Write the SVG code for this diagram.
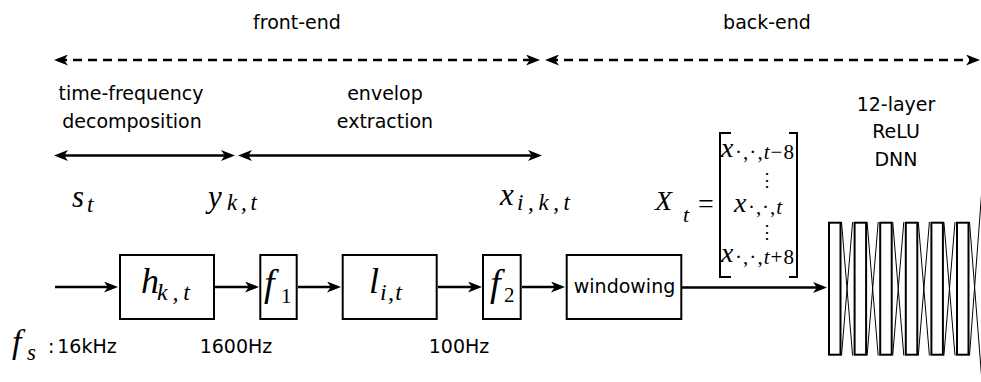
<svg xmlns="http://www.w3.org/2000/svg" width="981" height="382" viewBox="0 0 981 382">
<style>
.s{font-family:"DejaVu Sans",sans-serif;font-size:19px;fill:#000}
.m{font-family:"Liberation Serif",serif;font-style:italic;fill:#000}
.u{font-family:"Liberation Serif",serif;fill:#000}
.box{fill:#fff;stroke:#000;stroke-width:2}
.ln{stroke:#000;stroke-width:2.4;fill:none}
.br{stroke:#000;stroke-width:2;fill:none}
.dash{stroke:#000;stroke-width:2.4;fill:none;stroke-dasharray:9 6}
.thin{stroke:#000;stroke-width:1;fill:none}
.layer{fill:#fff;stroke:#000;stroke-width:2}
</style>
<defs>
<marker id="ah" viewBox="0 0 14 11" refX="10" refY="5.5" markerWidth="14" markerHeight="11" markerUnits="userSpaceOnUse" orient="auto-start-reverse">
<path d="M0,0 L14,5.5 L0,11 L3.8,5.5 Z" fill="#000"/>
</marker>
</defs>
<rect width="981" height="382" fill="#fff"/>

<g id="labels">
<text class="s" x="297" y="29" text-anchor="middle">front-end</text>
<text class="s" x="767" y="29" text-anchor="middle">back-end</text>
<text class="s" x="131" y="100" text-anchor="middle">time-frequency</text>
<text class="s" x="132" y="128" text-anchor="middle">decomposition</text>
<text class="s" x="385" y="100" text-anchor="middle">envelop</text>
<text class="s" x="385" y="128" text-anchor="middle">extraction</text>
<text class="s" x="896" y="111" text-anchor="middle">12-layer</text>
<text class="s" x="896" y="138" text-anchor="middle">ReLU</text>
<text class="s" x="896" y="166" text-anchor="middle">DNN</text>
<text class="m" x="72" y="207" font-size="31">s</text>
<text class="m" x="87" y="212" font-size="23">t</text>
<text class="m" x="208" y="207" font-size="31">y</text>
<text class="m" x="227" y="210" font-size="23" textLength="30" lengthAdjust="spacing">k,t</text>
<text class="m" x="500" y="205" font-size="31">x</text>
<text class="m" x="517" y="210" font-size="23" textLength="53" lengthAdjust="spacing">i,k,t</text>
<text class="m" x="12" y="353" font-size="34">f</text>
<text class="m" x="27" y="360" font-size="23">s</text>
<text class="s" x="48" y="353">:</text>
<text class="s" x="87" y="353" text-anchor="middle">16kHz</text>
<text class="s" x="236" y="353" text-anchor="middle">1600Hz</text>
<text class="s" x="459" y="353" text-anchor="middle">100Hz</text>
</g>

<g id="Xt">
<text class="m" x="655" y="210" font-size="28">X</text>
<text class="m" x="683" y="222" font-size="22">t</text>
<text class="u" x="698" y="213" font-size="28">=</text>
<path class="br" d="M731,133 H720 V277 H731"/>
<path class="br" d="M789,133 H797 V277 H789"/>
<text class="m" x="721" y="157" font-size="28">x</text>
<text class="u" x="735" y="159" font-size="21" textLength="59" lengthAdjust="spacing">·,·,<tspan font-style="italic">t</tspan>−8</text>
<text class="u" x="767" y="186" font-size="18" text-anchor="middle">⋮</text>
<text class="m" x="734" y="212" font-size="28">x</text>
<text class="u" x="748" y="214" font-size="21" textLength="34" lengthAdjust="spacing">·,·,<tspan font-style="italic">t</tspan></text>
<text class="u" x="767" y="238" font-size="18" text-anchor="middle">⋮</text>
<text class="m" x="721" y="262" font-size="28">x</text>
<text class="u" x="735" y="264" font-size="21" textLength="59" lengthAdjust="spacing">·,·,<tspan font-style="italic">t</tspan>+8</text>
</g>

<g id="connectors">
<line class="dash" x1="58" y1="60" x2="536" y2="60" marker-start="url(#ah)" marker-end="url(#ah)"/>
<line class="dash" x1="549" y1="60" x2="976" y2="60" marker-start="url(#ah)" marker-end="url(#ah)"/>
<line class="ln" x1="58" y1="155.5" x2="231" y2="155.5" marker-start="url(#ah)" marker-end="url(#ah)"/>
<line class="ln" x1="242" y1="155.5" x2="538" y2="155.5" marker-start="url(#ah)" marker-end="url(#ah)"/>
<line class="ln" x1="55" y1="287" x2="114" y2="287" marker-end="url(#ah)"/>
<line class="ln" x1="215" y1="287" x2="255" y2="287" marker-end="url(#ah)"/>
<line class="ln" x1="298" y1="287" x2="337" y2="287" marker-end="url(#ah)"/>
<line class="ln" x1="438" y1="287" x2="478" y2="287" marker-end="url(#ah)"/>
<line class="ln" x1="522" y1="287" x2="561" y2="287" marker-end="url(#ah)"/>
<line class="ln" x1="682" y1="287.5" x2="823" y2="287.5" marker-end="url(#ah)"/>
</g>

<g id="h">
<rect class="box" x="120" y="255" width="94" height="64"/>
<text class="m" x="141" y="293" font-size="36">h</text>
<text class="m" x="157" y="300" font-size="24" textLength="33" lengthAdjust="spacing">k,t</text>
</g>
<g id="f1">
<rect class="box" x="260.3" y="255" width="36.4" height="64"/>
<text class="m" x="264" y="296" font-size="38">f</text>
<text class="u" x="281" y="303" font-size="21">1</text>
</g>
<g id="l">
<rect class="box" x="342.7" y="255" width="94" height="64"/>
<text class="m" x="369" y="293" font-size="36">l</text>
<text class="m" x="380" y="300" font-size="24" textLength="22" lengthAdjust="spacing">i,t</text>
</g>
<g id="f2">
<rect class="box" x="483" y="255" width="37.7" height="64"/>
<text class="m" x="490" y="296" font-size="38">f</text>
<text class="u" x="504" y="302" font-size="21">2</text>
</g>
<g id="windowing">
<rect class="box" x="566.7" y="255" width="114.6" height="64"/>
<text class="s" x="624.5" y="293" text-anchor="middle">windowing</text>
</g>

<g id="dnn">
<g class="thin">
<path d="M841.5,222 L852.6,355.5 M841.5,355.5 L852.6,222"/>
<path d="M867.1,222 L878.2,355.5 M867.1,355.5 L878.2,222"/>
<path d="M892.7,222 L903.8,355.5 M892.7,355.5 L903.8,222"/>
<path d="M918.3,222 L929.4,355.5 M918.3,355.5 L929.4,222"/>
<path d="M943.9,222 L955,355.5 M943.9,355.5 L955,222"/>
<path d="M969.5,222 L982,382 M969.5,355.5 L982,188"/>
</g>
<rect class="layer" x="829" y="222.7" width="11.5" height="132"/>
<rect class="layer" x="854.6" y="222.7" width="11.5" height="132"/>
<rect class="layer" x="880.2" y="222.7" width="11.5" height="132"/>
<rect class="layer" x="905.8" y="222.7" width="11.5" height="132"/>
<rect class="layer" x="931.4" y="222.7" width="11.5" height="132"/>
<rect class="layer" x="957" y="222.7" width="11.5" height="132"/>
</g>
</svg>
